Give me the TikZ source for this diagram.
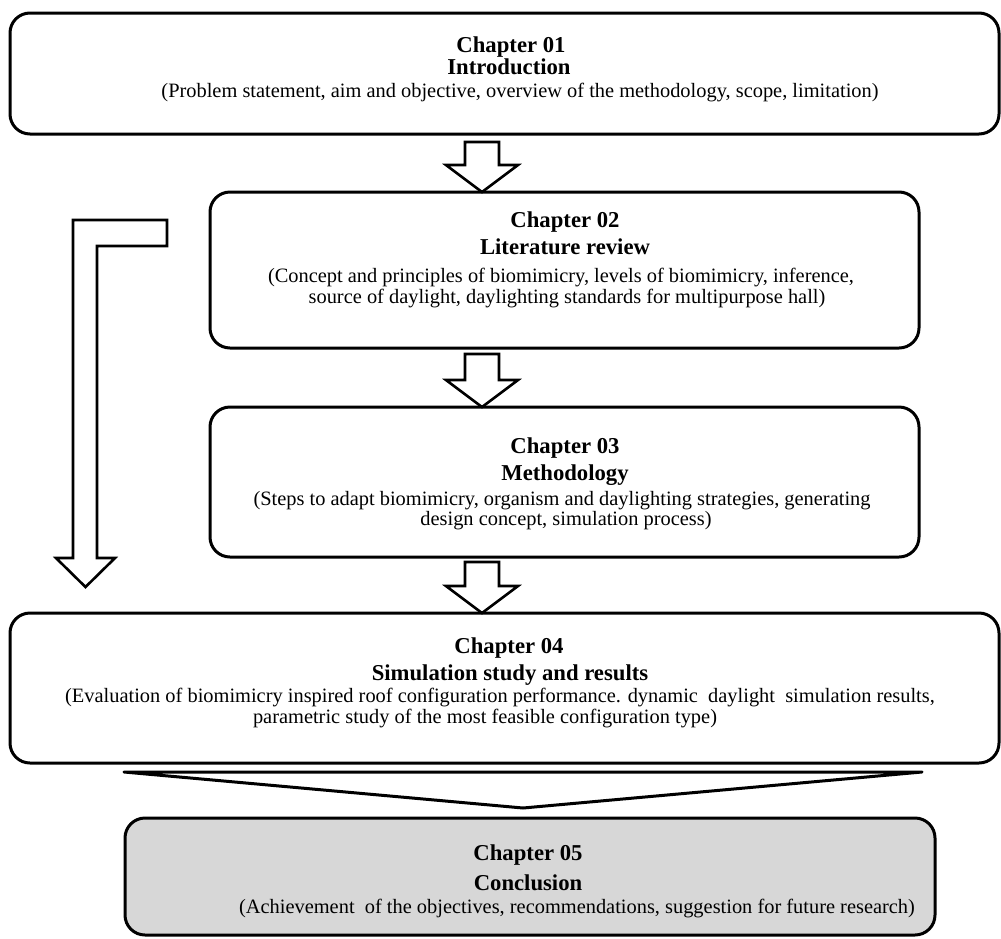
\documentclass[tikz,border=0pt]{standalone}
\usepackage{fontspec}
\setmainfont{Liberation Serif}
\usetikzlibrary{calc}
\definecolor{conclfill}{RGB}{215,215,215}

% downward block arrow: shaft starts at #1, tip lands on #2 (same x as #1)
\newcommand\blockdown[2]{%
  \draw[blockarrow] let \p1=(#1), \p2=(#2) in
    (\x1-17pt,\y1) -- (\x1+17pt,\y1) -- (\x1+17pt,\y2+27pt) -- (\x1+36pt,\y2+27pt)
    -- (\x1,\y2) -- (\x1-36pt,\y2+27pt) -- (\x1-17pt,\y2+27pt) -- cycle;}

\begin{document}
\begin{tikzpicture}[x=1pt,y=-1pt,
  chapbox/.style={draw=black, line width=3pt, rounded corners=20pt, fill=white,
    inner sep=0pt, outer sep=0pt},
  blockarrow/.style={draw=black, line width=2.6pt, fill=white, line join=miter},
  ttl/.style={font=\bfseries\fontsize{22.7}{24}\selectfont, anchor=base, inner sep=0pt},
  txt/.style={font=\fontsize{20.4}{22}\selectfont, anchor=base, inner sep=0pt}]
\useasboundingbox (0,0) rectangle (1001,938);

% chapter boxes
\node[chapbox, minimum width=989pt, minimum height=121pt] (b1) at (504.5,73.5) {};
\node[chapbox, minimum width=709pt, minimum height=156pt] (b2) at (564.5,270) {};
\node[chapbox, minimum width=709pt, minimum height=150pt] (b3) at (564.5,482) {};
\node[chapbox, minimum width=989pt, minimum height=150pt] (b4) at (504.5,688) {};
\node[chapbox, fill=conclfill, minimum width=810pt, minimum height=117pt] (b5) at (530,876.5) {};

% chapter 01
\node[ttl] (t1a) at (511,52) {Chapter 01};
\node[ttl] (t1b) at (509,74.5) {Introduction};
\node[txt] (t1c) at (520,97) {(Problem statement, aim and objective, overview of the methodology, scope, limitation)};

% chapter 02
\node[ttl] (t2a) at (565,227) {Chapter 02};
\node[ttl] (t2b) at (565,254) {Literature review};
\node[txt] (t2c) at (561,282) {(Concept and principles of biomimicry, levels of biomimicry, inference,};
\node[txt] (t2d) at (567,303) {source of daylight, daylighting standards for multipurpose hall)};

% chapter 03
\node[ttl] (t3a) at (565,453) {Chapter 03};
\node[ttl] (t3b) at (565,480) {Methodology};
\node[txt] (t3c) at (562,505) {(Steps to adapt biomimicry, organism and daylighting strategies, generating};
\node[txt] (t3d) at (566,525) {design concept, simulation process)};

% chapter 04
\node[ttl] (t4a) at (509,653) {Chapter 04};
\node[ttl] (t4b) at (510,680) {Simulation study and results};
\node[txt] (t4c) at (500,702) {(Evaluation of biomimicry inspired roof configuration performance. dynamic\ \ daylight\ \ simulation results,};
\node[txt] (t4d) at (485,723) {parametric study of the most feasible configuration type)};

% chapter 05
\node[ttl] (t5a) at (528,860) {Chapter 05};
\node[ttl] (t5b) at (528,890) {Conclusion};
\node[txt] (t5c) at (577,913) {(Achievement\ \ of the objectives, recommendations, suggestion for future research)};

% block arrows between consecutive chapters
\coordinate (a1) at (482,142);
\coordinate (a2) at (482,354);
\coordinate (a3) at (482,562);
\blockdown{a1}{a1 |- b2.north}
\blockdown{a2}{a2 |- b3.north}
\blockdown{a3}{a3 |- b4.north}

% bent arrow from beside chapter 02 down to chapter 04
\coordinate (bend) at (167,233);
\coordinate (bendtip) at (85.5,587);
\draw[blockarrow] let \p1=(bend), \p2=(bendtip) in
  (\x1,\y1+13pt) -- (\x2-12.5pt,\y1+13pt) -- (\x2-12.5pt,\y2+29pt)
  -- (\x2-29.5pt,\y2+29pt) -- (\x2,\y2) -- (\x2+29.5pt,\y2+29pt)
  -- (\x2+11.5pt,\y2+29pt) -- (\x2+11.5pt,\y1-13pt) -- (\x1,\y1-13pt) -- cycle;

% funnel from chapter 04 to chapter 05
\coordinate (wl) at (124,772);
\coordinate (wr) at (922,772);
\coordinate (wt) at (523,808);
\draw[draw=black, line width=3pt, fill=white, line join=round] (wl) -- (wr) -- (wt) -- cycle;
\end{tikzpicture}
\end{document}
